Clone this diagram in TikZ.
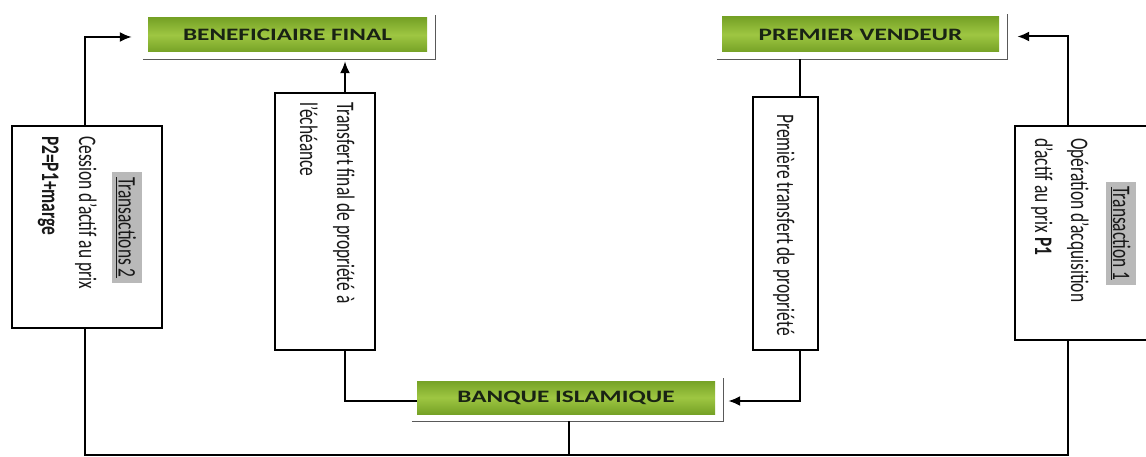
\documentclass[tikz,border=0pt]{standalone}
\usepackage{fontspec}
\usepackage{graphicx}
\setmainfont{Carlito}
\usetikzlibrary{arrows.meta}
\newcommand{\vstr}[1]{\scalebox{1}[1.45]{#1}}
\newcommand{\hstr}[1]{\scalebox{1.45}[1]{#1}}
\newcommand{\mycapfont}{\fontsize{17.4pt}{20pt}\selectfont\bfseries}
\newcommand{\myvfont}{\fontsize{17.4pt}{20pt}\selectfont}
\definecolor{gedge}{RGB}{118,162,38}
\definecolor{gmid}{RGB}{158,198,66}
\definecolor{captxt}{RGB}{25,35,20}
\begin{document}
\begin{tikzpicture}[x=1pt, y=-1pt,
  box/.style={draw=black, line width=2pt, inner sep=0pt, fill=white},
  caption/.style={inner sep=0pt, top color=gedge, bottom color=gedge, middle color=gmid, text=captxt, font=\mycapfont},
  framel/.style={draw=black!65, line width=1.2pt},
  vtext/.style={rotate=-90, inner sep=0pt, font=\myvfont, text=black!90},
  hl/.style={fill=gray!55, inner xsep=5pt, inner ysep=0pt, text height=23pt, text depth=7pt},
  conn/.style={line width=2pt, draw=black},
  arr/.style={conn, -{Latex[length=12pt,width=10pt]}}]
\fill[white] (0,0) rectangle (1146,457);
\useasboundingbox (0,0) rectangle (1146,457);

% caption boxes
\node[caption, minimum width=279pt, minimum height=34pt] (bf) at (287.5,35) {\hstr{BENEFICIAIRE FINAL}};
\node[caption, minimum width=277pt, minimum height=35pt] (pv) at (860.5,34.5) {\hstr{PREMIER VENDEUR}};
\node[caption, minimum width=298pt, minimum height=33pt] (bi) at (566,397.5) {\hstr{BANQUE ISLAMIQUE}};
\foreach \n in {bf,pv,bi}{
  \draw[framel] ([xshift=-5pt,yshift=-7pt]\n.south west) -- ([xshift=8pt,yshift=-7pt]\n.south east) -- ([xshift=8pt,yshift=3pt]\n.north east);
}

% text boxes
\node[box, line width=2.6pt, minimum width=150pt, minimum height=202pt] (t2box) at (87,227) {};
\node[box, minimum width=100pt, minimum height=257pt] (tfbox) at (325,221.5) {};
\node[box, minimum width=65pt, minimum height=253pt] (ptbox) at (785.5,223.5) {};
\node[box, minimum width=140pt, minimum height=214pt] (t1box) at (1085,233) {};

% texts
\node[vtext, hl] (t2a) at (126.5,227.5) {\vstr{\underline{Transactions 2}}};
\node[vtext, anchor=base west] (t2b) at (79,136) {\vstr{Cession d’actif au prix}};
\node[vtext, anchor=base west] (t2c) at (42,136) {\vstr{\bfseries P2=P1+marge}};
\node[vtext, anchor=base west] (tfa) at (337,102) {\vstr{Transfert final de propriété à}};
\node[vtext, anchor=base west] (tfb) at (300,102) {\vstr{l’échéance}};
\node[vtext, anchor=base] (pta) at (777,225) {\vstr{Première transfert de propriété}};
\node[vtext, hl] (t1a) at (1121,233.5) {\vstr{\underline{Transaction 1}}};
\node[vtext, anchor=base west] (t1b) at (1071,138) {\vstr{Opération d’acquisition}};
\node[vtext, anchor=base west] (t1c) at (1035,138) {\vstr{d’actif au prix \textbf{P1}}};

% coordinates
\coordinate (bfb) at ([yshift=-9pt]bf.south);
\coordinate (pvb) at ([yshift=-7pt]pv.south);
\coordinate (bib) at ([xshift=3pt,yshift=-7pt]bi.south);
\path (bib) ++(0,34) coordinate (bot);
\coordinate (tft) at ([xshift=20pt]tfbox.north);
\coordinate (tfs) at ([xshift=20pt]tfbox.south);
\coordinate (ptt) at ([xshift=14.5pt]ptbox.north);
\coordinate (pts) at ([xshift=14.5pt]ptbox.south);
\coordinate (t1t) at ([xshift=-17pt]t1box.north);
\coordinate (t1s) at ([xshift=-17pt]t1box.south);
\coordinate (t2t) at ([xshift=-2pt]t2box.north);
\coordinate (t2s) at ([xshift=-2pt]t2box.south);

% connectors
\draw[arr] (t2t) |- ([xshift=-16pt,yshift=-2pt]bf.west);
\draw[arr] (t1t) |- ([xshift=18pt,yshift=-2pt]pv.east);
\draw[conn] (t2s) |- (bot) -| (t1s);
\draw[conn] (bib) -- (bot);
\draw[arr] (tft) -- (tft |- bfb);
\draw[conn] (tfs) |- ([yshift=-3.5pt]bi.west);
\draw[conn] (ptt) -- (ptt |- pvb);
\draw[arr] (pts) |- ([xshift=13pt,yshift=-3.5pt]bi.east);
\end{tikzpicture}
\end{document}
